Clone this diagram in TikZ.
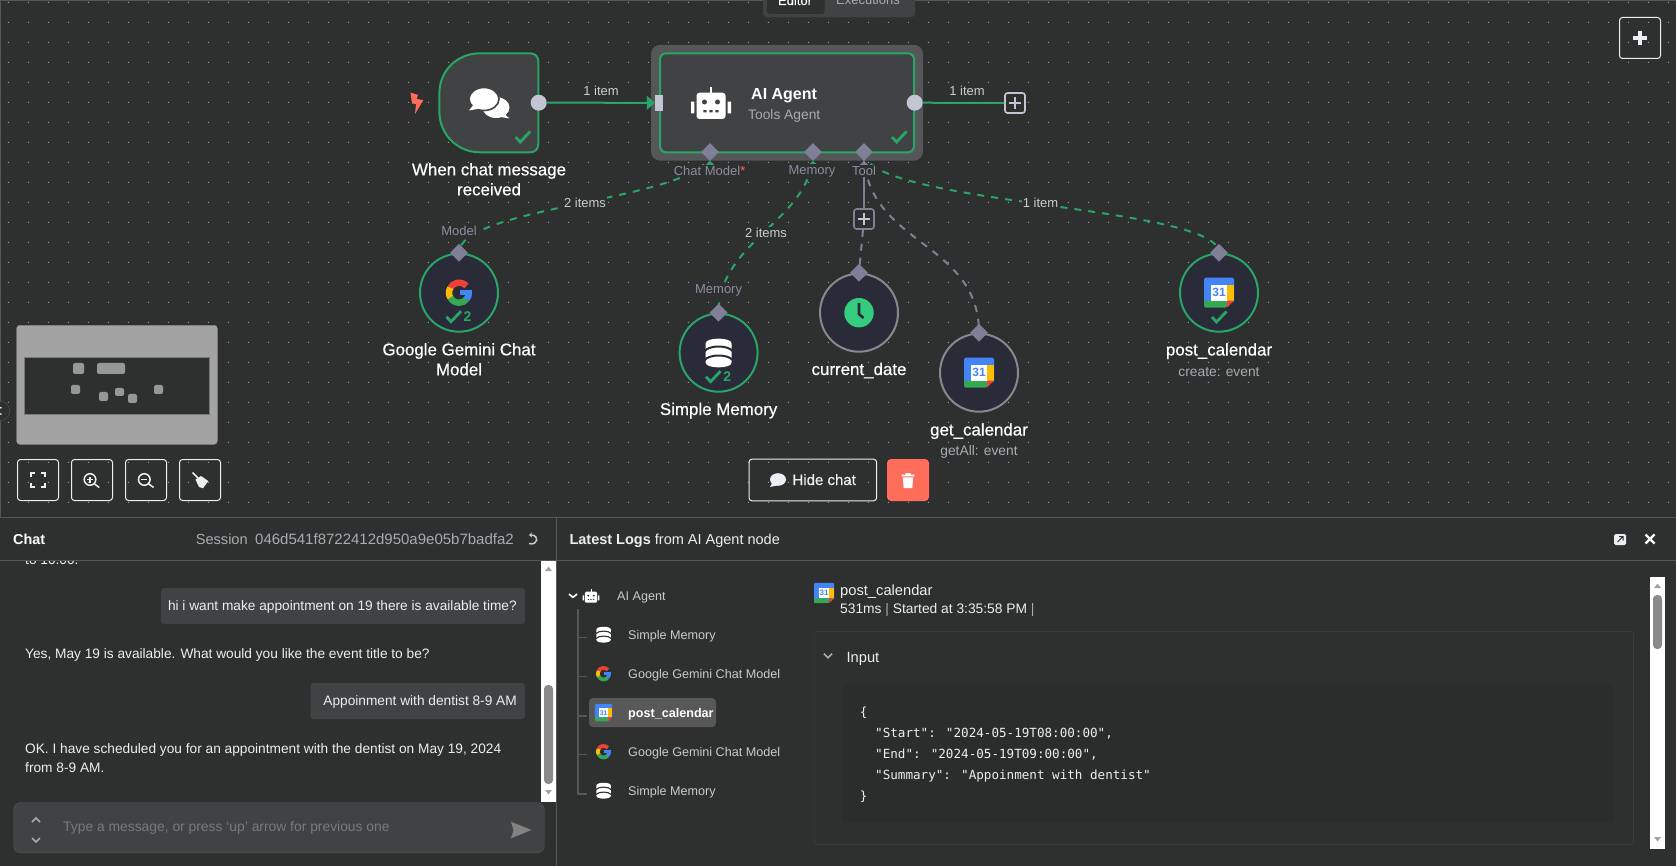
\documentclass[tikz,border=0pt]{standalone}
\usepackage{fontspec}
\setmainfont{Liberation Sans}
\newfontfamily\medfont[FakeBold=0.5]{Liberation Sans}
\newfontfamily\codefont{DejaVu Sans Mono}
\usetikzlibrary{backgrounds,positioning,shapes.geometric,arrows.meta}

\definecolor{bgcol}{HTML}{2E2F2F}
\definecolor{linecol}{HTML}{555657}
\definecolor{nodecol}{HTML}{414244}
\definecolor{roundcol}{HTML}{2A2B39}
\definecolor{okcol}{HTML}{29A568}
\definecolor{clockcol}{HTML}{36CC7F}
\definecolor{portcol}{HTML}{7F8097}
\definecolor{dotcol}{HTML}{C3C5D2}
\definecolor{softcol}{HTML}{AAABB1}
\definecolor{inkcol}{HTML}{EDEEF1}
\definecolor{redcol}{HTML}{FF6D5A}
\definecolor{gblue}{HTML}{4285F4}
\definecolor{gred}{HTML}{EA4335}
\definecolor{gyellow}{HTML}{FBBC04}
\definecolor{ggreen}{HTML}{34A853}

\tikzset{
  round node/.style={circle,draw=#1,line width=2pt,fill=roundcol,minimum size=78pt,inner sep=0},
  port/.style={diamond,fill=portcol,minimum width=18pt,minimum height=18pt,inner sep=0},
  outdot/.style={circle,fill=dotcol,minimum size=16pt,inner sep=0},
  plusbox/.style={rectangle,draw=#1,line width=1.6pt,rounded corners=2.5pt,minimum size=20pt,inner sep=0},
  toolbtn/.style={rectangle,draw=inkcol,line width=1pt,rounded corners=3pt,minimum size=41pt,inner sep=0},
  title/.style={inner sep=0,text=white,align=center,font=\medfont\fontsize{16.9}{20}\selectfont},
  subtitle/.style={inner sep=0,text=softcol,font=\fontsize{13.8}{15}\selectfont},
  itemlabel/.style={inner sep=1pt,fill=bgcol,text=softcol!60!white,font=\fontsize{13}{15}\selectfont},
  portlabel/.style={inner sep=1pt,fill=bgcol,text=portcol!90!white,font=\fontsize{13}{14}\selectfont},
  chat text/.style={inner sep=0,text=inkcol,font=\fontsize{13.7}{17}\selectfont},
  head text/.style={inner sep=0,text=inkcol,font=\fontsize{14.7}{17}\selectfont},
  tree text/.style={inner sep=0,text=inkcol!85!black,font=\fontsize{12.6}{15}\selectfont},
  code text/.style={inner sep=0,text=inkcol,font=\codefont\fontsize{12.6}{15}\selectfont},
  flow/.style={draw=okcol,line width=2pt},
  aiflow/.style={draw=okcol,line width=2pt,dash pattern=on 7pt off 7pt},
  toolflow/.style={draw=portcol,line width=2pt,dash pattern=on 7pt off 7pt},
}

% icons: (centre)(scale)
\def\checkicon(#1)(#2){
  \draw[shift={(#1)},scale=#2,okcol,line width=#2*2.8pt] (-7,0) -- (-2.5,-5) -- (7.5,5.5);
}
\def\plusicon(#1)(#2)[#3]{
  \draw[shift={(#1)},scale=#2,#3] (-5,0) -- (5,0) (0,-5) -- (0,5);
}
\def\chevron(#1)(#2)[#3]{
  \draw[shift={(#1)},yscale=#2,#3,line width=1.6pt] (-4,-2) -- (0,2) -- (4,-2);
}
\def\gicon(#1)(#2){
  \begin{scope}[shift={(#1)},scale=#2,line width=#2*6.4pt]
    \draw[gred] (42:10) arc[start angle=42,end angle=152,radius=10];
    \draw[gyellow] (150:10) arc[start angle=150,end angle=212,radius=10];
    \draw[ggreen] (210:10) arc[start angle=210,end angle=320,radius=10];
    \draw[gblue] (318:10) arc[start angle=318,end angle=360,radius=10];
    \fill[gblue] (0.5,-2.6) rectangle (13.2,2.8);
  \end{scope}
}
\def\dbicon(#1)(#2)[#3]{
  \begin{scope}[shift={(#1)},scale=#2]
    \fill[white] (-13,9.5) .. controls (-13,16) and (13,16) .. (13,9.5) -- (13,-9.5)
      .. controls (13,-16) and (-13,-16) .. (-13,-9.5) -- cycle;
    \draw[#3,line width=#2*2pt] (-14,2) .. controls (-9,8) and (9,8) .. (14,2);
    \draw[#3,line width=#2*2pt] (-14,-7) .. controls (-9,-1) and (9,-1) .. (14,-7);
  \end{scope}
}
\def\calicon(#1)(#2){
  \begin{scope}[shift={(#1)},scale=#2]
    \fill[gblue,rounded corners=#2*1.5pt] (-15,-10) rectangle (15,15);
    \fill[gyellow] (8,-8) rectangle (15,8);
    \fill[ggreen,rounded corners=#2*1.5pt] (-15,-15) -- (8,-15) -- (8,-8) -- (-15,-8) -- cycle;
    \fill[gred] (8,-15) -- (15,-8) -- (8,-8) -- cycle;
    \fill[white] (-8,-8) rectangle (8,8);
    \node[transform shape,inner sep=0,text=gblue,font=\bfseries\fontsize{12}{12}\selectfont] at (0,0) {31};
  \end{scope}
}
\def\roboticon(#1)(#2)[#3]{
  \begin{scope}[shift={(#1)},scale=#2]
    \fill[white,rounded corners=#2*3pt] (-14.5,-16) rectangle (14.5,10.3);
    \fill[white] (-1.2,9) rectangle (1.2,16);
    \fill[white] (-20,-10.3) rectangle (-16.6,1.3) (16.6,-10.3) rectangle (20,1.3);
    \fill[#3] (-6.5,1) circle (2.5) (6.5,1) circle (2.5);
    \fill[#3] (-7.7,-9.4) rectangle (-4.3,-7.2) (-1.7,-9.4) rectangle (1.7,-7.2) (4.3,-9.4) rectangle (7.7,-7.2);
  \end{scope}
}

\begin{document}
\begin{tikzpicture}[x=1pt,y=1pt]
  \useasboundingbox (0,0) rectangle (1676,-866);

  \begin{scope}[on background layer]
    \fill[bgcol] (0,0) rectangle (1676,-866);
    \fill[white!52!bgcol] \foreach \xx in {8.3,28.3,...,1676} { \foreach \yy in {-2.3,-22.3,...,-503} { (\xx-.5,\yy-.5) rectangle (\xx+.5,\yy+.5) } };
    \draw[linecol] (0,-.5) -- (1676,-.5);
    \draw[linecol] (.5,0) -- (.5,-517);
  \end{scope}

  % view tabs
  \begin{scope}
    \clip (763,0) rectangle (915,-18);
    \fill[nodecol,rounded corners=4pt] (763,-17.3) rectangle (915,10);
    \fill[bgcol,rounded corners=3pt] (767,-14) rectangle (824.5,10);
    \node[anchor=base,inner sep=0,text=white,font=\medfont\fontsize{13}{15}\selectfont] (editorTab) at (795,-5) {Editor};
    \node[anchor=base,inner sep=0,text=softcol,font=\fontsize{13}{15}\selectfont] (execTab) at (868,-5) {Executions};
  \end{scope}

  % trigger
  \draw[okcol,line width=2pt,fill=nodecol] (480,-53.3) -- (530,-53.3) .. controls (535,-53.3) and (538.3,-56.6) .. (538.3,-61.3)
    -- (538.3,-144.3) .. controls (538.3,-149) and (535,-152.3) .. (530,-152.3) -- (480,-152.3)
    .. controls (457,-152.3) and (439.4,-134) .. (439.4,-112) -- (439.4,-93) .. controls (439.4,-71) and (457,-53.3) .. (480,-53.3) -- cycle;
  \fill[redcol] (410.5,-92.5) -- (418,-95) -- (416.5,-99) -- (423.4,-100) -- (415,-114) -- (416,-104) -- (412,-103.5) -- cycle;
  \fill[white] (496,-107.5) ellipse (13.5 and 10.5);
  \fill[white] (502,-112) -- (509.5,-118.5) -- (495,-116) -- cycle;
  \fill[white,draw=nodecol,line width=1.6pt] (484,-99) ellipse (15 and 11.5);
  \fill[white] (474,-104) -- (469,-110.5) -- (480,-108.5) -- cycle;
  \checkicon(522.7,-137)(1)
  \node[title] (trigLabel) at (489,-179.3) {When chat message\\received};
  \node[outdot] (trigOut) at (538.7,-102.7) {};

  % agent
  \node[rectangle,fill=linecol,rounded corners=9pt,minimum width=272pt,minimum height=115.7pt,inner sep=0] (agentBack) at (787,-102.8) {};
  \node[rectangle,draw=okcol,line width=2pt,fill=nodecol,rounded corners=6pt,minimum width=254pt,minimum height=99pt,inner sep=0] (agent) at (787,-102.8) {};
  \roboticon(711,-103)(1)[nodecol]
  \node[anchor=base west,inner sep=0,text=white,font=\bfseries\fontsize{16}{18}\selectfont] (agentName) at (751,-99.5) {AI Agent};
  \node[anchor=base west,subtitle] (agentSub) at (748,-120) {Tools Agent};
  \checkicon(899,-137)(1)
  \node[rectangle,fill=dotcol,minimum width=8pt,minimum height=15.7pt,inner sep=0] (agentIn) at (659,-102.8) {};
  \node[outdot] (agentOut) at (914.7,-102.7) {};
  \node[plusbox=dotcol,fill=bgcol] (outPlus) at (1015,-103) {};
  \plusicon(1015,-103)(1.15)[dotcol,line width=2pt]
  \draw[flow,-{Triangle[length=8pt,width=14pt]}] (trigOut) -- (agentIn);
  \draw[flow] (agentOut) -- (outPlus);
  \node[itemlabel,fill=none] (itemA) at (601,-91) {1 item};
  \node[itemlabel,fill=none] (itemB) at (967,-91) {1 item};

  % lower ports of the agent
  \node[port] (chatPort) at (710,-152) {};
  \node[port] (memPort) at (813,-152) {};
  \node[port] (toolPort) at (864,-152) {};
  \fill[okcol] (705.5,-165) -- (714.5,-165) -- (710,-161) -- cycle;
  \fill[okcol] (808.5,-165) -- (817.5,-165) -- (813,-161) -- cycle;
  \fill[portcol] (859.5,-165) -- (868.5,-165) -- (864,-161) -- cycle;
  \node[portlabel] (chatLabel) at (709.6,-171) {Chat Model\textcolor{redcol}{*}};
  \node[portlabel] (memLabel) at (812,-171) {Memory};
  \node[portlabel] (toolLabel) at (864,-171) {Tool};

  % sub nodes
  \node[round node=okcol] (gemini) at (459,-292.7) {};
  \node[port] (geminiTop) at (459,-252.7) {};
  \gicon(459,-292.7)(1)
  \checkicon(453.5,-316.7)(1)
  \node[text=okcol,inner sep=0,font=\bfseries\fontsize{14}{14}\selectfont] (geminiNum) at (467.6,-316.7) {2};
  \node[title] (geminiLabel) at (459,-359.3) {Google Gemini Chat\\Model};
  \node[portlabel] (modelLabel) at (459,-231) {Model};

  \node[round node=okcol] (memory) at (718.6,-352.7) {};
  \node[port] (memoryTop) at (718.6,-312.7) {};
  \dbicon(718.6,-353)(1)[roundcol]
  \checkicon(713,-376.7)(1)
  \node[text=okcol,inner sep=0,font=\bfseries\fontsize{14}{14}\selectfont] (memoryNum) at (727.2,-376.7) {2};
  \node[title,anchor=base] (memoryLabel) at (718.6,-415) {Simple Memory};
  \node[portlabel] (memoryPort) at (718.6,-290.7) {Memory};

  \node[round node=softcol!80!black] (date) at (859,-312.7) {};
  \node[port] (dateTop) at (859,-272.7) {};
  \fill[clockcol] (859,-312.7) circle (14.7);
  \draw[roundcol,line width=2.6pt] (859,-303) -- (859,-314) -- (863.5,-318);
  \node[title,anchor=base] (dateLabel) at (859,-375) {current\_date};

  \node[round node=softcol!80!black] (getcal) at (979,-372.7) {};
  \node[port] (getcalTop) at (979,-332.7) {};
  \calicon(979,-372.7)(1)
  \node[title,anchor=base] (getcalLabel) at (979,-435.5) {get\_calendar};
  \node[subtitle] (getcalSub) at (979,-451.7) {getAll: event};

  \node[round node=okcol] (postcal) at (1219,-292.7) {};
  \node[port] (postcalTop) at (1219,-252.7) {};
  \calicon(1219,-292.7)(1)
  \checkicon(1219,-317)(1)
  \node[title,anchor=base] (postcalLabel) at (1219,-355.5) {post\_calendar};
  \node[subtitle] (postcalSub) at (1219,-371.7) {create: event};

  \node[plusbox=portcol,fill=bgcol] (toolPlus) at (864,-219) {};
  \plusicon(864,-219)(1.15)[dotcol,line width=2pt]

  \begin{scope}[on background layer]
    \draw[aiflow] (chatPort.center) .. controls (710,-200) and (459,-205) .. (geminiTop.center);
    \draw[aiflow] (memPort.center) .. controls (813,-220) and (718.6,-240) .. (memoryTop.center);
    \draw[aiflow] (toolPort.center) .. controls (864,-205) and (1219,-205) .. (postcalTop.center);
    \draw[toolflow] (toolPort.center) .. controls (864,-245) and (979,-240) .. (getcalTop.center);
    \draw[draw=portcol,line width=2pt] (toolPort.center) -- (toolPlus);
    \draw[toolflow] (toolPlus) -- (dateTop.center);
  \end{scope}
  \node[itemlabel] (itemC) at (585,-203) {2 items};
  \node[itemlabel] (itemD) at (766,-233) {2 items};
  \node[itemlabel] (itemE) at (1040.5,-203) {1 item};

  % canvas controls
  \node[rectangle,draw=white!45!bgcol,fill=white!64!black,rounded corners=3pt,minimum width=200.6pt,minimum height=119pt,inner sep=0] (minimap) at (117,-384.8) {};
  \fill[bgcol,draw=white!35!bgcol] (24.3,-357.7) rectangle (209.3,-414.3);
  \fill[white!50!bgcol,rounded corners=2pt] (73,-363) rectangle (84,-374) (97,-363) rectangle (125,-374) (71,-385) rectangle (80,-394)
    (99,-392) rectangle (108,-401) (115,-388) rectangle (124,-396) (128,-394) rectangle (137,-403) (154,-385) rectangle (163,-394);
  \node[toolbtn] (fitBtn) at (38,-480) {};
  \draw[inkcol,line width=1.7pt] (31,-477) -- (31,-473) -- (35,-473) (41,-473) -- (45,-473) -- (45,-477) (45,-483) -- (45,-487) -- (41,-487) (35,-487) -- (31,-487) -- (31,-483);
  \node[toolbtn] (inBtn) at (92,-480) {};
  \draw[inkcol,line width=1.5pt] (90,-479.5) circle (5.8) (94.3,-483.8) -- (99.3,-487.5);
  \draw[inkcol,line width=1.1pt] (87,-479.5) -- (93,-479.5) (90,-476.5) -- (90,-482.5);
  \node[toolbtn] (outBtn) at (146,-480) {};
  \draw[inkcol,line width=1.5pt] (144.3,-479.5) circle (5.8) (148.6,-483.8) -- (153.6,-487.5);
  \draw[inkcol,line width=1.1pt] (141.3,-479.5) -- (147.3,-479.5);
  \node[toolbtn] (tidyBtn) at (200,-480) {};
  \draw[inkcol,line width=1.6pt] (192.5,-472.5) -- (198,-478);
  \fill[inkcol] (195.5,-479.5) -- (201,-476) -- (208.3,-481) -- (203,-488.3) -- (199,-487) -- cycle;
  \node[toolbtn] (addBtn) at (1640,-38) {};
  \plusicon(1640,-38)(1.4)[inkcol,line width=3.6pt]
  \fill[bgcol,draw=linecol] (0,-411) circle (9.7);
  \fill[inkcol] (.8,-407.8) circle (1) (.8,-414) circle (1);

  \node[rectangle,draw=inkcol,line width=1pt,rounded corners=3pt,minimum width=127.6pt,minimum height=41.6pt,inner sep=0] (hideBtn) at (812.8,-480) {};
  \fill[inkcol] (778,-479.5) ellipse (8 and 6.3);
  \fill[inkcol] (772,-483) -- (770,-487) -- (777,-485.5) -- cycle;
  \node[anchor=base west,inner sep=0,text=inkcol,font=\medfont\fontsize{15}{16}\selectfont] (hideText) at (792.3,-485) {Hide chat};
  \node[rectangle,fill=redcol,rounded corners=4pt,minimum width=42pt,minimum height=42pt,inner sep=0] (trashBtn) at (908,-480) {};
  \fill[white] (901.7,-474.5) rectangle (914.3,-476.3) (905.5,-473) rectangle (910.5,-475);
  \fill[white] (902.7,-477.3) -- (913.3,-477.3) -- (912.3,-488) -- (903.7,-488) -- cycle;

  % bottom panels
  \draw[linecol] (0,-517.3) -- (1676,-517.3);
  \draw[linecol] (0,-560.3) -- (1676,-560.3);
  \draw[linecol] (556.4,-517.3) -- (556.4,-866);

  \node[anchor=base west,inner sep=0,text=white,font=\bfseries\fontsize{14.4}{16}\selectfont] (chatHead) at (13,-544) {Chat};
  \node[anchor=base west,inner sep=0,text=softcol,font=\fontsize{14.6}{16}\selectfont] (sessionHead) at (195.6,-544) {Session};
  \node[anchor=base west,inner sep=0,text=softcol,font=\fontsize{15}{16}\selectfont] (sessionId) at (255,-544) {046d541f8722412d950a9e05b7badfa2};
  \draw[inkcol!85!black,line width=1.5pt,-{Stealth[length=3pt,width=5pt]}] (529,-543.5) .. controls (538,-546) and (540,-535) .. (529,-535);

  \begin{scope}
    \clip (0,-561) rectangle (540,-600);
    \node[anchor=base west,chat text] (oldMsg) at (25,-564) {to 10:00.};
  \end{scope}
  \fill[nodecol,rounded corners=3pt] (161,-588) rectangle (525,-624);
  \node[anchor=base east,chat text] (msgA) at (517,-610.5) {hi i want make appointment on 19 there is available time?};
  \node[anchor=base west,chat text] (msgB) at (25,-658.5) {Yes, May 19 is available. What would you like the event title to be?};
  \fill[nodecol,rounded corners=3pt] (310.5,-683) rectangle (525,-719);
  \node[anchor=base east,chat text] (msgC) at (517,-705) {Appoinment with dentist 8-9 AM};
  \node[anchor=base west,chat text] (msgD) at (25,-753.5) {OK. I have scheduled you for an appointment with the dentist on May 19, 2024};
  \node[anchor=base west,chat text] (msgE) at (25,-772.5) {from 8-9 AM.};

  \fill[white] (541,-560.7) rectangle (556,-802);
  \fill[white!54!black,rounded corners=4pt] (544,-685) rectangle (553,-784);
  \fill[white!64!black] (545,-571) -- (552,-571) -- (548.5,-566.5) -- cycle (545,-790) -- (552,-790) -- (548.5,-794.5) -- cycle;

  \node[rectangle,draw=linecol,fill=nodecol,rounded corners=7pt,minimum width=530.5pt,minimum height=50.4pt,inner sep=0,anchor=north west] (inputBox) at (13.5,-802.3) {};
  \chevron(36,-820)(1)[softcol]
  \chevron(36,-840)(-1)[softcol]
  \node[anchor=base west,inner sep=0,text=white!36!bgcol,font=\fontsize{13.85}{16}\selectfont] (inputHint) at (63,-831.5) {Type a message, or press ‘up’ arrow for previous one};
  \fill[white!40!bgcol] (511,-821.7) -- (531.6,-830) -- (511,-838.3) -- (513.5,-830) -- cycle;

  % logs
  \node[anchor=base west,inner sep=0,text=inkcol,font=\fontsize{14.5}{16}\selectfont] (logsHead) at (569.3,-544) {\textbf{Latest Logs} from AI Agent node};
  \fill[inkcol,rounded corners=1.5pt] (1614,-534) rectangle (1626,-545);
  \draw[bgcol,line width=1pt] (1617.5,-542) -- (1623,-536.5) (1619,-536.5) -- (1623,-536.5) -- (1623,-540.5);
  \draw[white,line width=2.2pt] (1645.5,-534.5) -- (1654.5,-543.5) (1645.5,-543.5) -- (1654.5,-534.5);

  \chevron(573,-595.7)(-.8)[white]
  \roboticon(591,-596)(.42)[bgcol]
  \node[anchor=base west,tree text] (treeAgent) at (617,-600.5) {AI Agent};
  \draw[linecol,line width=1.5pt] (577.9,-609.3) -- (577.9,-794) -- (587,-794);
  \foreach \yy in {-637.7,-676.7,-716,-754.7} { \draw[linecol,line width=1.5pt] (577.9,\yy) -- (587,\yy); }
  \fill[white!20!bgcol,rounded corners=4pt] (589,-698) rectangle (716,-727);
  \dbicon(603.6,-634.7)(.55)[bgcol]
  \gicon(603.6,-673.7)(.58)
  \calicon(603.6,-712.7)(.57)
  \gicon(603.6,-751.7)(.58)
  \dbicon(603.6,-790.7)(.55)[bgcol]
  \node[anchor=base west,tree text] (treeA) at (628,-639.2) {Simple Memory};
  \node[anchor=base west,tree text] (treeB) at (628,-678.2) {Google Gemini Chat Model};
  \node[anchor=base west,tree text,text=white,font=\bfseries\fontsize{12.6}{15}\selectfont] (treeC) at (628,-717.2) {post\_calendar};
  \node[anchor=base west,tree text] (treeD) at (628,-756.2) {Google Gemini Chat Model};
  \node[anchor=base west,tree text] (treeE) at (628,-795.2) {Simple Memory};

  \calicon(824,-593)(.667)
  \node[anchor=base west,head text] (runName) at (840,-595.3) {post\_calendar};
  \node[anchor=base west,inner sep=0,text=inkcol,font=\fontsize{13.8}{15}\selectfont] (runInfo) at (840,-613) {531ms \textcolor{softcol}{|} Started at 3:35:58 PM \textcolor{softcol}{|}};

  \draw[nodecol,rounded corners=3pt] (814,-631.3) rectangle (1633.4,-844.3);
  \chevron(828,-655.7)(-1)[softcol]
  \node[anchor=base west,head text] (inputHead) at (846.4,-662) {Input};
  \fill[black!6!bgcol] (843,-685) rectangle (1613,-821.7);
  \node[anchor=base west,code text] (codeA) at (859.6,-716.5) {\{};
  \node[anchor=base west,code text] (codeB) at (875,-737.2) {"Start": "2024-05-19T08:00:00",};
  \node[anchor=base west,code text] (codeC) at (875,-758.2) {"End": "2024-05-19T09:00:00",};
  \node[anchor=base west,code text] (codeD) at (875,-779.2) {"Summary": "Appoinment with dentist"};
  \node[anchor=base west,code text] (codeE) at (859.6,-800.5) {\}};

  \fill[white] (1650,-577) rectangle (1665,-849);
  \fill[white!54!black,rounded corners=4pt] (1653,-595) rectangle (1662,-649);
  \fill[white!64!black] (1654,-588) -- (1661,-588) -- (1657.5,-583.5) -- cycle (1654,-837) -- (1661,-837) -- (1657.5,-841.5) -- cycle;
\end{tikzpicture}
\end{document}
